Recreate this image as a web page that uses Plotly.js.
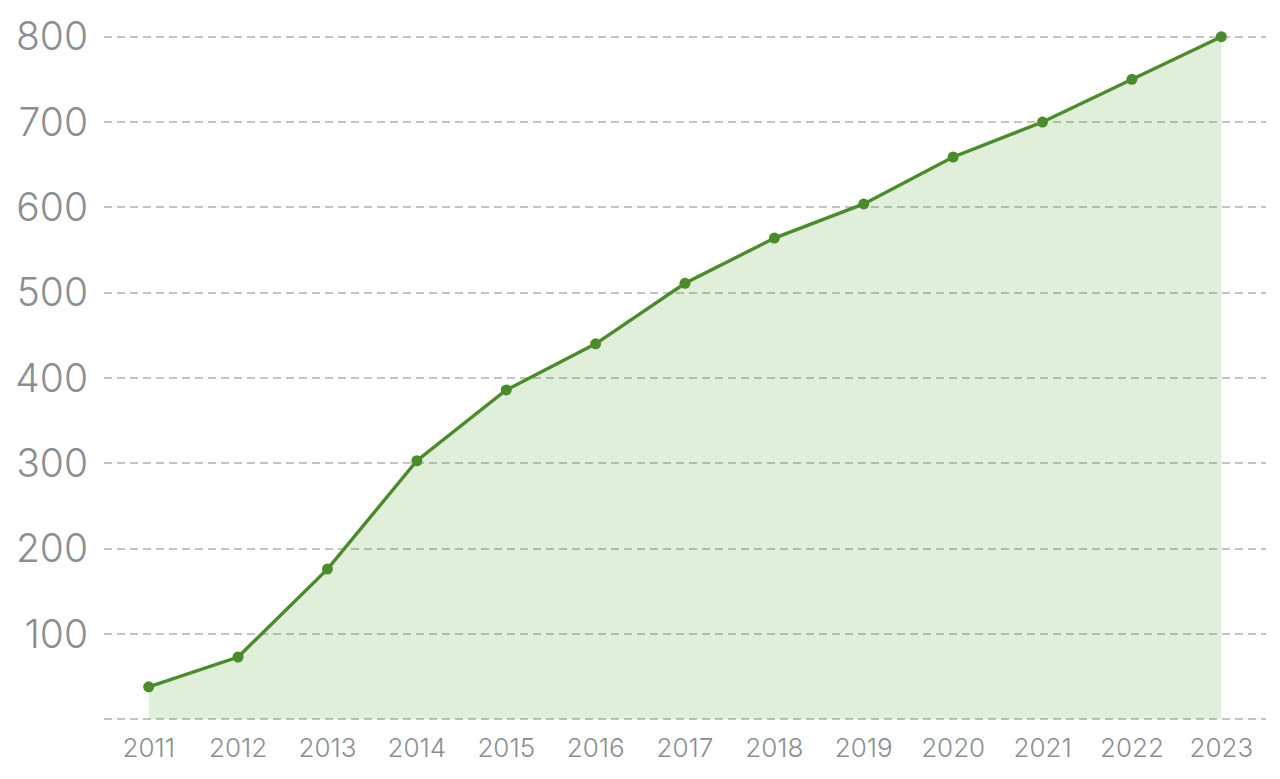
<!DOCTYPE html>
<html>
<head>
<meta charset="utf-8">
<script src="https://cdn.plot.ly/plotly-3.0.1.min.js"></script>
<style>
  html, body { margin: 0; padding: 0; background: #fff; }
  #plot { width: 1280px; height: 779px; }
</style>
</head>
<body>
<div id="plot"></div>
<script>
var years = ['2011', '2012', '2013', '2014', '2015', '2016', '2017', '2018', '2019', '2020', '2021', '2022', '2023'];
var values = [38, 73, 176, 303, 386, 440, 511, 564, 604, 659, 700, 750, 800];
var yTicks = [0, 100, 200, 300, 400, 500, 600, 700, 800];
var yTickText = ['', '100', '200', '300', '400', '500', '600', '700', '800'];

// fill is see-through so the dashed grid shows over it, like the original
var trace = {
  x: years.map(Number),
  y: values,
  type: 'scatter',
  mode: 'lines+markers',
  fill: 'tozeroy',
  fillcolor: 'rgba(95,175,65,0.2)',
  line: { color: '#4a8c2a', width: 3.4 },
  marker: { color: '#4a8c2a', size: 11 },
  cliponaxis: false,
  hoverinfo: 'x+y'
};

var layout = {
  width: 1280,
  height: 779,
  margin: { l: 104, r: 14, t: 35, b: 58 },
  paper_bgcolor: '#fff',
  plot_bgcolor: '#fff',
  showlegend: false,
  font: { family: 'Inter, sans-serif', color: '#8a8e92' },
  xaxis: {
    range: [2010.5, 2023.5],
    tickvals: years.map(Number),
    ticktext: years,
    showgrid: false,
    zeroline: false,
    showline: false,
    ticks: '',
    tickfont: { size: 26, color: '#8a8e92', weight: 300 },
    ticklabelstandoff: 9
  },
  yaxis: {
    // a hair past 0 and 800 so the edge grid lines are kept
    range: [-2, 802],
    tickvals: yTicks,
    ticktext: yTickText,
    showgrid: true,
    gridcolor: '#c4c4c4',
    griddash: '8px,5px',
    gridwidth: 2,
    zeroline: false,
    showline: false,
    ticks: '',
    tickfont: { size: 39, color: '#8a8e92', weight: 300 },
    ticklabelstandoff: 15
  }
};

Plotly.newPlot('plot', [trace], layout, { displayModeBar: false, staticPlot: true });
</script>
</body>
</html>
